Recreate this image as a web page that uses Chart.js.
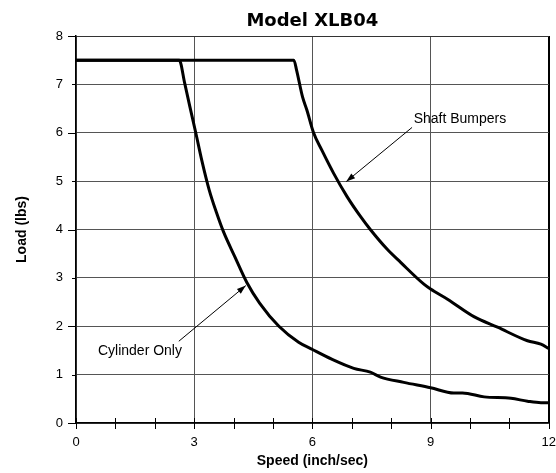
<!DOCTYPE html>
<html lang="en">
<head>
<meta charset="UTF-8">
<title>Model XLB04</title>
<script src="https://cdn.jsdelivr.net/npm/chart.js"></script>
<style>
    body { margin: 0; background: #fff; }
    #wrap { width: 556px; height: 473px; }
</style>
</head>
<body>
<div id="wrap"><canvas id="chart" width="556" height="473"></canvas></div>
<script>
// values
const cylinderSpeed = [0, 2.62, 2.76, 2.89, 3.04, 3.19, 3.38, 3.57, 3.74, 4.03, 4.34, 4.66, 5.15, 5.65, 6.0, 6.49, 7.05, 7.47, 7.73, 8.32, 9.0, 9.59, 9.81, 10.36, 11.04, 11.46, 11.8, 12];
const cylinderLoad  = [7.5, 7.5, 7.02, 6.54, 6.0, 5.44, 4.82, 4.34, 3.96, 3.44, 2.9, 2.48, 2.0, 1.67, 1.52, 1.32, 1.13, 1.05, 0.95, 0.84, 0.73, 0.62, 0.62, 0.54, 0.51, 0.45, 0.42, 0.42];
const shaftSpeed = [0, 5.53, 5.60, 5.75, 5.86, 6.03, 6.24, 6.54, 6.88, 7.22, 7.47, 7.90, 8.24, 8.83, 9.0, 9.43, 10.10, 10.70, 11.46, 11.80, 12];
const shaftLoad  = [7.5, 7.5, 7.29, 6.74, 6.47, 6.0, 5.64, 5.16, 4.68, 4.27, 4.0, 3.59, 3.32, 2.87, 2.77, 2.56, 2.2, 1.98, 1.70, 1.63, 1.54];
const xLabels = [0, 3, 6, 9, 12];

// callouts: text anchor, arrow start, arrow tip (in data units)
const notes = [
    { text: 'Shaft Bumpers', at: [8.57, 6.29], align: 'left', from: [8.53, 6.11], to: [6.86, 4.99] },
    { text: 'Cylinder Only', at: [2.69, 1.49], align: 'right', from: [2.61, 1.69], to: [4.31, 2.84] }
];

function toPoints(xs, ys) {
    return xs.map((x, i) => ({ x: x, y: ys[i] }));
}

Chart.defaults.font.family = '"Liberation Sans", Arial, sans-serif';
Chart.defaults.color = '#000';

// tick marks: x ticks cross the axis, y ticks longer on even values
const tickMarks = {
    id: 'tickMarks',
    afterDraw(chart) {
        const c = chart.ctx;
        const xs = chart.scales.x, ys = chart.scales.y;
        const bottom = chart.chartArea.bottom, left = chart.chartArea.left;
        c.save();
        c.strokeStyle = '#000';
        c.lineWidth = 1;
        for (let v = 0; v <= 12; v++) {
            const px = Math.round(xs.getPixelForValue(v)) + 0.5;
            c.beginPath();
            c.moveTo(px, bottom - 5);
            c.lineTo(px, bottom + 6);
            c.stroke();
        }
        for (let v = 0; v <= 8; v++) {
            const py = Math.round(ys.getPixelForValue(v)) + 0.5;
            const len = v % 2 === 0 ? 8 : 4;
            c.beginPath();
            c.moveTo(left - len, py);
            c.lineTo(left, py);
            c.stroke();
        }
        c.restore();
    }
};

const callouts = {
    id: 'callouts',
    afterDatasetsDraw(chart) {
        const c = chart.ctx;
        const xs = chart.scales.x, ys = chart.scales.y;
        c.save();
        c.fillStyle = '#000';
        c.strokeStyle = '#000';
        c.lineWidth = 1;
        c.font = '14px "Liberation Sans", Arial, sans-serif';
        notes.forEach(n => {
            c.textAlign = n.align;
            c.textBaseline = 'middle';
            c.fillText(n.text, xs.getPixelForValue(n.at[0]), ys.getPixelForValue(n.at[1]));
            const x1 = xs.getPixelForValue(n.from[0]), y1 = ys.getPixelForValue(n.from[1]);
            const x2 = xs.getPixelForValue(n.to[0]), y2 = ys.getPixelForValue(n.to[1]);
            c.beginPath();
            c.moveTo(x1, y1);
            c.lineTo(x2, y2);
            c.stroke();
            const a = Math.atan2(y2 - y1, x2 - x1);
            c.beginPath();
            c.moveTo(x2, y2);
            c.lineTo(x2 - 9 * Math.cos(a) + 3 * Math.sin(a), y2 - 9 * Math.sin(a) - 3 * Math.cos(a));
            c.lineTo(x2 - 9 * Math.cos(a) - 3 * Math.sin(a), y2 - 9 * Math.sin(a) + 3 * Math.cos(a));
            c.closePath();
            c.fill();
        });
        c.restore();
    }
};

new Chart(document.getElementById('chart'), {
    type: 'line',
    data: {
        datasets: [
            { label: 'Cylinder Only', data: toPoints(cylinderSpeed, cylinderLoad) },
            { label: 'Shaft Bumpers', data: toPoints(shaftSpeed, shaftLoad) }
        ]
    },
    options: {
        responsive: false,
        animation: false,
        layout: { autoPadding: false, padding: { left: 0, right: 1, top: 0, bottom: 0 } },
        elements: {
            line: { borderColor: '#000', borderWidth: 3, cubicInterpolationMode: 'monotone', borderCapStyle: 'butt' },
            point: { radius: 0, hoverRadius: 0 }
        },
        plugins: {
            legend: { display: false },
            tooltip: { enabled: false },
            title: {
                display: true,
                text: 'Model XLB04',
                fullSize: false,
                color: '#000',
                font: { family: '"DejaVu Sans"', size: 18, weight: 'bold' },
                padding: { top: 11, bottom: 3.4 }
            }
        },
        scales: {
            x: {
                type: 'linear',
                min: 0,
                max: 12,
                afterFit: s => { s.height = 50; },
                border: { color: '#000', width: 1.5 },
                grid: {
                    drawTicks: true,
                    tickLength: 12,
                    tickColor: 'rgba(0,0,0,0)',
                    color: ctx => {
                        const v = ctx.tick.value;
                        if (v === 12) return '#000';
                        return v % 3 === 0 ? '#555' : 'rgba(0,0,0,0)';
                    },
                    lineWidth: ctx => (ctx.tick.value === 12 ? 2 : 1)
                },
                ticks: {
                    stepSize: 1,
                    autoSkip: false,
                    maxRotation: 0,
                    padding: 0,
                    font: { size: 13 },
                    callback: v => (xLabels.includes(v) ? v : '')
                },
                title: {
                    display: true,
                    text: 'Speed (inch/sec)',
                    font: { size: 14, weight: 'bold' },
                    padding: { top: 2, bottom: 3 }
                }
            },
            y: {
                min: 0,
                max: 8,
                afterFit: s => { s.width = 76; },
                border: { color: '#000', width: 1.5 },
                grid: {
                    drawTicks: false,
                    color: ctx => (ctx.tick.value === 8 ? '#333' : '#555')
                },
                ticks: { stepSize: 1, padding: 13, font: { size: 13 } },
                title: {
                    display: true,
                    text: 'Load (lbs)',
                    font: { size: 14, weight: 'bold' },
                    padding: { top: 14, bottom: 25 }
                }
            }
        }
    },
    plugins: [tickMarks, callouts]
});
</script>
</body>
</html>
